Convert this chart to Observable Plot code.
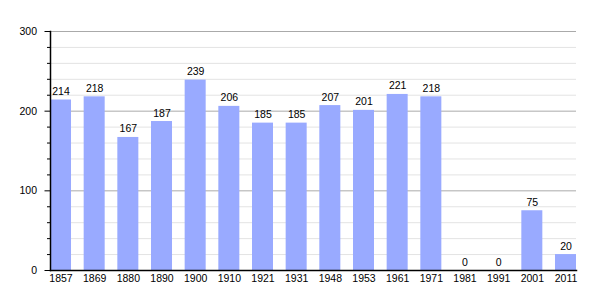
<!DOCTYPE html>
<html>
<head>
<meta charset="utf-8">
<script src="https://cdn.jsdelivr.net/npm/d3@7"></script>
<script src="https://cdn.jsdelivr.net/npm/@observablehq/plot@0.6"></script>
<style>
  html, body { margin: 0; padding: 0; background: #fff; }
  #chart svg { display: block; }
</style>
</head>
<body>
<div id="chart"></div>
<script>
const years = ["1857","1869","1880","1890","1900","1910","1921","1931","1948","1953","1961","1971","1981","1991","2001","2011"];
const population = [214,218,167,187,239,206,185,185,207,201,221,218,0,0,75,20];
const majorTicks = [0,100,200,300];
const minorTicks = [20,40,60,80,120,140,160,180,220,240,260,280];

const data = years.map((y, i) => ({year: y, value: population[i]}));

const chart = Plot.plot({
  width: 605,
  height: 300,
  marginLeft: 50,
  marginRight: 29,
  marginTop: 31,
  marginBottom: 30,
  style: {fontFamily: "'Liberation Sans', Arial, sans-serif", fontSize: "10.5px", color: "#000", background: "#fff"},
  x: {type: "band", domain: years, paddingInner: 0.376, paddingOuter: 0, round: false, label: null},
  y: {domain: [0, 300], label: null},
  marks: [
    Plot.ruleY(minorTicks, {stroke: "#e3e3e3", strokeOpacity: 1}),
    Plot.ruleY(majorTicks.slice(1), {stroke: "#aaaaaa", strokeOpacity: 1}),
    Plot.barY(data, {x: "year", y: "value", fill: "#99aaff"}),
    Plot.text(data, {x: "year", y: "value", text: d => String(d.value), dy: -5, lineAnchor: "bottom", fill: "#000", fontSize: 10.5}),
    Plot.axisY(minorTicks, {tickSize: 3, text: null, stroke: "#000"}),
    Plot.axisY(majorTicks, {tickSize: 5.5, tickPadding: 8, stroke: "#000", fill: "#000", fontSize: 10.5}),
    Plot.axisX({tickSize: 0, tickPadding: 4, fill: "#000", fontSize: 10.5}),
    Plot.frame({anchor: "left", stroke: "#000", strokeWidth: 1.5}),
    Plot.frame({anchor: "bottom", stroke: "#000", strokeWidth: 1.5})
  ]
});
document.getElementById("chart").appendChild(chart);
</script>
</body>
</html>
